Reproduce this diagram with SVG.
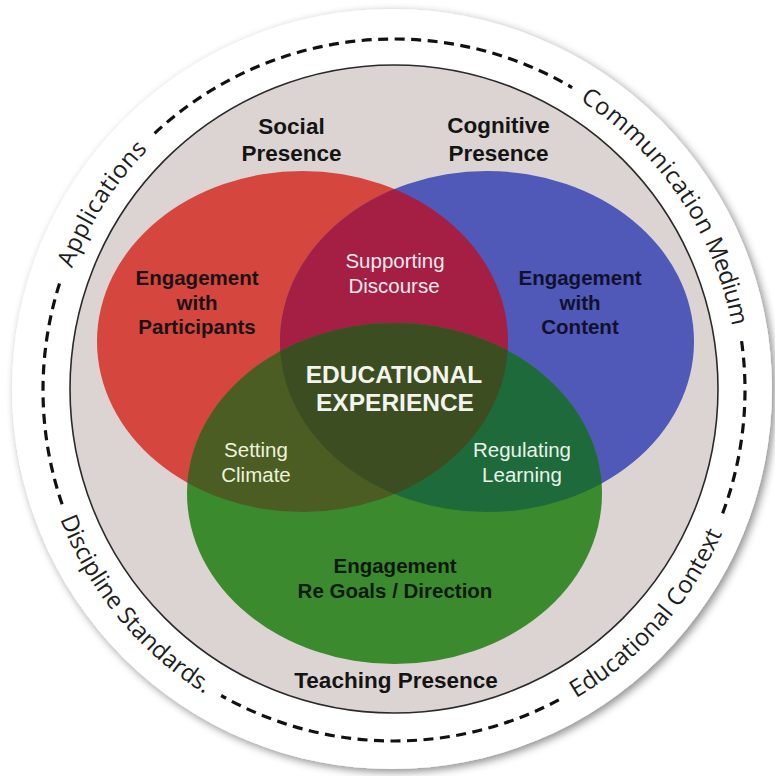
<svg xmlns="http://www.w3.org/2000/svg" xmlns:xlink="http://www.w3.org/1999/xlink" width="775" height="776" viewBox="0 0 775 776">
  <style>
    .head { font-family: "Liberation Sans", Arial, sans-serif; font-weight: bold; font-size: 22.5px; fill: #141414; text-anchor: middle; }
    .lbl { font-family: "Liberation Sans", Arial, sans-serif; font-weight: bold; font-size: 20.5px; text-anchor: middle; }
    .lite { font-family: "Liberation Sans", Arial, sans-serif; font-weight: normal; font-size: 20.5px; text-anchor: middle; }
    .big { font-family: "Liberation Sans", Arial, sans-serif; font-weight: bold; font-size: 24.5px; fill: #f4f4ee; text-anchor: middle; }
    .ring { font-family: "Open Sans", "DejaVu Sans", sans-serif; font-size: 24px; fill: #1e1e1e; text-anchor: middle; }
    .ringS { font-family: "Open Sans", "DejaVu Sans", sans-serif; font-size: 24px; fill: #1e1e1e; text-anchor: start; }
    .dash { fill: none; stroke: #111; stroke-width: 3.2; stroke-dasharray: 10 6.5; }
  </style>
  <defs>
    <filter id="shadow" x="-10%" y="-10%" width="120%" height="120%">
      <feDropShadow dx="3" dy="3" stdDeviation="4" flood-color="#000" flood-opacity="0.45"/>
    </filter>
    <clipPath id="clipRed"><ellipse cx="302.5" cy="341.5" rx="205.5" ry="170.5"/></clipPath>
    <clipPath id="clipBlue"><ellipse cx="487" cy="341.5" rx="207" ry="170.5"/></clipPath>
    <path id="pApp" d="M 52.94 434.90 A 344 344 0 0 1 290.56 61.92"/>
    <path id="pCom" d="M 459.64 52.32 A 344 344 0 0 1 731.68 455.64"/>
    <path id="pEdu" d="M 446.92 744.07 A 358 358 0 0 0 751.88 399.37"/>
    <path id="pDis" d="M 36.01 387.50 A 358 358 0 0 0 329.37 742.12"/>
  </defs>

  <rect width="775" height="776" fill="#ffffff"/>

  <g id="frame">
    <circle cx="392" cy="389" r="380" fill="#ffffff" filter="url(#shadow)"/>
    <circle cx="394" cy="389" r="324" fill="#dcd4d2" stroke="#2a2a2a" stroke-width="1.6"/>
  </g>

  <g id="ring">
    <path class="dash" d="M 154.62 133.30 A 351 351 0 0 1 572.15 87.57"/>
    <path class="dash" d="M 741.58 341.15 A 351 351 0 0 1 721.69 515.79"/>
    <path class="dash" d="M 558.78 699.92 A 351 351 0 0 1 221.16 695.50"/>
    <path class="dash" d="M 62.12 504.27 A 351 351 0 0 1 60.18 281.53"/>
    <text class="ring"><textPath xlink:href="#pApp" startOffset="50%" textLength="142">Applications</textPath></text>
    <text class="ringS"><textPath xlink:href="#pCom" startOffset="130" textLength="184">Communication</textPath></text>
    <text class="ringS"><textPath xlink:href="#pCom" startOffset="321" textLength="89">Medium</textPath></text>
    <text class="ring"><textPath xlink:href="#pEdu" startOffset="50%" textLength="224">Educational Context</textPath></text>
    <text class="ring"><textPath xlink:href="#pDis" startOffset="50%" textLength="231">Discipline Standards.</textPath></text>
  </g>

  <g id="social-presence">
    <ellipse cx="302.5" cy="341.5" rx="205.5" ry="170.5" fill="#d5463e"/>
    <text class="head" x="291.5" y="134">Social</text>
    <text class="head" x="291.5" y="161">Presence</text>
    <text class="lbl" x="197" y="285" fill="#1c1212">Engagement</text>
    <text class="lbl" x="197" y="310" fill="#1c1212">with</text>
    <text class="lbl" x="197" y="334" fill="#1c1212">Participants</text>
  </g>

  <g id="cognitive-presence">
    <ellipse cx="487" cy="341.5" rx="207" ry="170.5" fill="#5058b8"/>
    <text class="head" x="498.5" y="133">Cognitive</text>
    <text class="head" x="498.5" y="161">Presence</text>
    <text class="lbl" x="580" y="285" fill="#11112e">Engagement</text>
    <text class="lbl" x="580" y="310" fill="#11112e">with</text>
    <text class="lbl" x="580" y="334" fill="#11112e">Content</text>
  </g>

  <g id="supporting-discourse">
    <g clip-path="url(#clipRed)">
      <ellipse cx="487" cy="341.5" rx="207" ry="170.5" fill="#a51e43"/>
    </g>
    <text class="lite" x="395" y="268" fill="#f5e9ee">Supporting</text>
    <text class="lite" x="394" y="293" fill="#f5e9ee">Discourse</text>
  </g>

  <g id="teaching-presence">
    <ellipse cx="394.5" cy="493.5" rx="207.5" ry="170.5" fill="#3b8a2d"/>
    <text class="lbl" x="395" y="573" fill="#0c1a0a">Engagement</text>
    <text class="lbl" x="395" y="598" fill="#0c1a0a">Re Goals / Direction</text>
    <text class="head" x="396" y="688">Teaching Presence</text>
  </g>

  <g id="setting-climate">
    <g clip-path="url(#clipRed)">
      <ellipse cx="394.5" cy="493.5" rx="207.5" ry="170.5" fill="#4b5d22"/>
    </g>
    <text class="lite" x="256" y="457" fill="#eef3dc">Setting</text>
    <text class="lite" x="256" y="482" fill="#eef3dc">Climate</text>
  </g>

  <g id="regulating-learning">
    <g clip-path="url(#clipBlue)">
      <ellipse cx="394.5" cy="493.5" rx="207.5" ry="170.5" fill="#1e6a3a"/>
    </g>
    <text class="lite" x="522" y="457" fill="#e9f3eb">Regulating</text>
    <text class="lite" x="522" y="482" fill="#e9f3eb">Learning</text>
  </g>

  <g id="educational-experience">
    <g clip-path="url(#clipRed)">
      <g clip-path="url(#clipBlue)">
        <ellipse cx="394.5" cy="493.5" rx="207.5" ry="170.5" fill="#3c4e21"/>
      </g>
    </g>
    <text class="big" x="394" y="383">EDUCATIONAL</text>
    <text class="big" x="395" y="411">EXPERIENCE</text>
  </g>
</svg>
